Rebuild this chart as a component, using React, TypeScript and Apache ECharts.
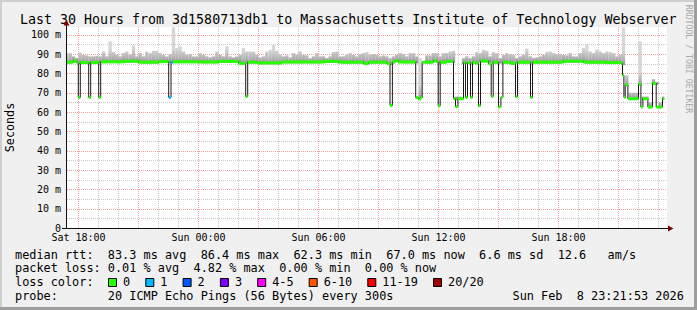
import React, { useEffect, useRef } from 'react';
import * as echarts from 'echarts';

const FONT = '"DejaVu Sans Mono", "Liberation Mono", monospace';

// ---- axes ----
const xMinHour = 17.425; // hours since Sat 00:00
const xMaxHour = 47.425;
const yMaxMs = 104;

const xTickHours = [18, 24, 30, 36, 42];
const xTickLabels = ['Sat 18:00', 'Sun 00:00', 'Sun 06:00', 'Sun 12:00', 'Sun 18:00'];
const yTickValues = [0, 10, 20, 30, 40, 50, 60, 70, 80, 90, 100];
const yTickLabels = ['0', '10 m', '20 m', '30 m', '40 m', '50 m', '60 m', '70 m', '80 m', '90 m', '100 m'];
const majorGridHours = [18, 21, 24, 27, 30, 33, 36, 39, 42, 45];
const minorGridHours = [18, 19, 20, 21, 22, 23, 24, 25, 26, 27, 28, 29, 30, 31, 32, 33, 34, 35, 36, 37, 38, 39, 40, 41, 42, 43, 44, 45, 46, 47];
const majorGridMs = [10, 20, 30, 40, 50, 60, 70, 80, 90, 100];
const minorGridMs = [5, 15, 25, 35, 45, 55, 65, 75, 85, 95];

// ---- median rtt (step breakpoints) ----
const medianHours = [
  17.3, 17.75, 17.92, 17.99, 18.09, 18.51, 18.61, 19.01, 19.11, 20.33, 21.0, 22.0,
  22.51, 22.625, 22.71, 24.0, 25.0, 26.0, 26.36, 26.46, 26.92, 28.17, 30.33, 31.0,
  32.25, 32.5, 33.42, 33.575, 33.695, 33.835, 34.0, 34.86, 34.99, 35.12, 35.185,
  35.75, 35.92, 35.985, 36.085, 36.42, 36.75, 36.85, 36.97, 37.25, 37.35, 37.45,
  37.6, 37.7, 37.835, 38.0, 38.1, 38.5, 38.635, 38.735, 39.0, 39.12, 39.22, 39.585,
  39.85, 39.95, 40.6, 40.7, 42.25, 43.25, 44.335, 45.135, 45.2, 45.27, 45.335, 45.47,
  46.0, 46.12, 46.22, 46.47, 46.7, 46.885, 47.2, 47.285,
];
const medianMs = [
  85.8, 86.4, 85.3, 67.6, 85.6, 67.6, 85.6, 67.6, 86.0, 86.3, 85.8, 86.1,
  67.6, 85.8, 86.0, 85.9, 86.2, 85.2, 68.1, 85.8, 85.4, 85.9, 86.2, 85.8,
  85.1, 85.8, 85.0, 63.4, 85.9, 86.5, 85.9, 67.5, 66.8, 67.5, 85.8,
  86.5, 85.8, 63.2, 85.8, 86.2, 66.9, 62.8, 66.9, 85.5, 67.6, 85.5,
  67.6, 85.8, 85.3, 63.3, 86.4, 85.0, 68.1, 85.8, 62.7, 67.6, 85.8, 85.2,
  67.9, 85.8, 67.6, 85.8, 86.3, 85.8, 85.6, 85.0, 79.0, 67.6, 74.1, 66.9,
  74.4, 62.6, 66.9, 62.6, 74.8, 62.6, 66.9, 66.9,
];
const medianLoss = [
  0, 0, 0, 0, 0, 0, 0, 0, 0, 0, 0, 0,
  1, 1, 0, 0, 0, 0, 0, 0, 0, 0, 0, 0,
  0, 0, 0, 0, 0, 0, 0, 0, 0, 0, 0,
  0, 0, 0, 0, 0, 0, 0, 0, 0, 0, 0,
  0, 0, 0, 0, 0, 0, 0, 0, 0, 0, 0, 0,
  0, 0, 0, 0, 0, 0, 0, 0, 0, 0, 0, 0,
  0, 0, 0, 0, 0, 0, 0, 0,
];
const dataEndHour = 47.285;

// ---- smoke (top of ping spread per 10-minute bin) ----
const smokeStartHour = 17.333;
const smokeStepHour = 1 / 6;
const smokeTopMs = [
  90.5, 90.5, 88.8, 87.9, 90.8, 89.6, 89.3, 88.8, 88.8, 89.1, 88.8, 91.3, 88.8, 96.6, 91.0, 89.6, 88.8, 90.5, 91.3, 89.6,
  94.5, 88.8, 90.5, 88.8, 91.3, 90.5, 91.7, 91.7, 90.5, 89.6, 88.8, 90.0, 103.8, 93.1, 94.0, 91.3, 89.6,
  90.0, 88.8, 88.8, 90.5, 89.6, 88.8, 88.3, 88.8, 91.3, 89.6, 88.8, 94.0, 88.8, 88.3, 88.8, 89.6, 93.1, 91.3, 91.3,
  91.3, 89.6, 88.3, 88.8, 91.3, 92.2, 94.8, 91.7, 89.6, 88.8, 89.3, 88.3, 90.5, 89.6, 91.3, 89.6, 89.3,
  87.9, 88.8, 90.5, 88.8, 88.8, 87.9, 88.8, 91.0, 91.3, 88.8, 88.8, 89.6, 90.5, 89.6, 88.8, 90.0, 90.5, 91.0,
  89.6, 90.0, 89.6, 88.8, 89.3, 88.8, 87.9, 88.8, 89.6, 90.5, 90.0, 88.8, 90.5, 90.5, 88.8, 87.9, 68.5, 89.3,
  89.3, 90.5, 90.5, 88.8, 90.5, 90.5, 91.3, 91.7, 68.0, 68.0, 87.9, 88.8, 87.9, 88.8, 91.0, 90.5, 92.2, 91.7,
  88.8, 91.0, 90.5, 87.9, 89.6, 90.5, 90.0, 89.6, 87.9, 88.8, 89.6, 92.9, 88.8, 87.9, 88.3, 88.8, 89.6, 91.0,
  91.3, 90.5, 90.0, 90.0, 89.6, 89.3, 90.5, 88.8, 88.8, 90.5, 93.1, 94.8, 91.3, 90.5, 92.2, 91.3, 90.5, 91.3,
  91.0, 90.5, 88.8, 89.6, 103.8, 79.0, 70.0, 70.0, 70.0, 96.6, 68.0, 68.0, 65.0, 77.0, 75.5, 65.0, 68.0,
];

// ---- loss legend ----
const lossLabels = ['0', '1', '2', '3', '4-5', '6-10', '11-19', '20/20'];
const lossUpper = [0, 1, 2, 3, 5, 10, 19, 20];
const lossColors = ['#26ff00', '#00b8ff', '#0059ff', '#7e00ff', '#ff00ff', '#ff5500', '#ff0000', '#a10000'];

// ---- legend texts ----
const titleText = 'Last 30 Hours from 3d1580713db1 to Massachusetts Institute of Technology Webserver';
const legendLines = [
  'median rtt:  83.3 ms avg  86.4 ms max  62.3 ms min  67.0 ms now  6.6 ms sd  12.6   am/s',
  'packet loss: 0.01 % avg  4.82 % max  0.00 % min  0.00 % now',
  'loss color:',
  'probe:       20 ICMP Echo Pings (56 Bytes) every 300s',
];
const dateText = 'Sun Feb  8 23:21:53 2026';

function lossColor(loss: number): string {
  for (let i = 0; i < lossUpper.length; i++) if (loss <= lossUpper[i]) return lossColors[i];
  return lossColors[lossColors.length - 1];
}

function medianMaxIn(t0: number, t1: number): number | null {
  let m: number | null = null;
  for (let i = 0; i < medianHours.length - 1; i++) {
    const a = medianHours[i];
    const b = medianHours[i + 1];
    if (b > t0 && a < t1) m = m === null ? medianMs[i] : Math.max(m, medianMs[i]);
  }
  return m;
}

function txt(text: string, x: number, y: number, size: number, extra: any = {}) {
  return {
    type: 'text',
    x,
    y,
    z: 100,
    silent: true,
    rotation: extra.rotation || 0,
    style: {
      text: text.replace(/ /g, '\u00a0'),
      font: `${size}px ${FONT}`,
      fill: extra.fill || '#000',
      align: extra.align || 'left',
      textAlign: extra.align || 'left',
      verticalAlign: 'middle',
      textVerticalAlign: 'middle',
    },
  };
}

function buildOption(): any {
  const vLines = (values: number[], color: string, z: number) => ({
    type: 'custom',
    z,
    silent: true,
    data: values.map((h) => [h, 0]),
    renderItem: (params: any, api: any) => {
      const cs = params.coordSys;
      const p = api.coord([api.value(0), 0]);
      const x = Math.floor(p[0]) + 0.5;
      return {
        type: 'line',
        shape: { x1: x, y1: cs.y, x2: x, y2: cs.y + cs.height },
        style: { stroke: color, lineWidth: 1, lineDash: [1, 1] },
      };
    },
  });
  const hLines = (values: number[], color: string, z: number) => ({
    type: 'custom',
    z,
    silent: true,
    data: values.map((v) => [xMinHour, v]),
    renderItem: (params: any, api: any) => {
      const cs = params.coordSys;
      const p = api.coord([xMinHour, api.value(1)]);
      const y = Math.round(p[1]) + 0.5;
      return {
        type: 'line',
        shape: { x1: cs.x, y1: y, x2: cs.x + cs.width, y2: y },
        style: { stroke: color, lineWidth: 1, lineDash: [1, 1] },
      };
    },
  });

  const smokeSeries = {
    type: 'custom',
    z: 5,
    silent: true,
    clip: true,
    data: smokeTopMs.map((v, k) => [smokeStartHour + k * smokeStepHour, v]),
    renderItem: (params: any, api: any) => {
      const cs = params.coordSys;
      const t0 = api.value(0);
      const top = api.value(1);
      const t1 = Math.min(t0 + smokeStepHour, dataEndHour);
      if (t1 <= t0) return null;
      const base = medianMaxIn(t0, t1);
      if (base === null || top <= base) return null;
      const pTop = api.coord([t0, top]);
      const pBot = api.coord([t1, base - 0.7]);
      const x0 = Math.max(pTop[0], cs.x);
      const x1 = Math.min(pBot[0], cs.x + cs.width);
      if (x1 <= x0) return null;
      const yTop = Math.max(pTop[1], cs.y);
      return {
        type: 'rect',
        shape: { x: x0, y: yTop, width: x1 - x0, height: pBot[1] - yTop },
        style: {
          fill: new echarts.graphic.LinearGradient(
            0, pBot[1], 0, pBot[1] - 14,
            [
              { offset: 0, color: '#8a8a8a' },
              { offset: 0.35, color: '#b0b0b0' },
              { offset: 1, color: '#d6d6d6' },
            ],
            true,
          ),
        },
      };
    },
  };

  const medianLine = {
    type: 'line',
    z: 10,
    silent: true,
    step: 'end',
    showSymbol: false,
    symbol: 'none',
    clip: true,
    data: medianHours.map((h, i) => [h, medianMs[i]]),
    lineStyle: { color: '#1a1a1a', width: 1 },
  };

  const segs: number[][] = [];
  for (let i = 0; i < medianHours.length - 1; i++) {
    segs.push([medianHours[i], medianMs[i], medianHours[i + 1], medianLoss[i]]);
  }
  const lossBand = {
    type: 'custom',
    z: 12,
    silent: true,
    clip: true,
    encode: { x: [0, 2], y: 1 },
    data: segs,
    renderItem: (params: any, api: any) => {
      const cs = params.coordSys;
      const a = api.coord([api.value(0), api.value(1)]);
      const b = api.coord([api.value(2), api.value(1)]);
      const x0 = Math.max(a[0], cs.x);
      const x1 = Math.min(b[0], cs.x + cs.width);
      if (x1 <= x0) return null;
      return {
        type: 'rect',
        shape: { x: x0, y: a[1] - 1.5, width: x1 - x0, height: 3 },
        style: { fill: lossColor(api.value(3)) },
      };
    },
  };

  const LF = 11.86;
  const lineY = [254.5, 268.4, 282.3, 296.2];

  // legend row of loss colours
  const lossGraphics: any[] = [];
  let bx = 108.5;
  lossLabels.forEach((lab, i) => {
    lossGraphics.push({
      type: 'rect',
      z: 100,
      silent: true,
      shape: { x: bx, y: 278.5, width: 8, height: 8 },
      style: { fill: lossColors[i], stroke: '#000', lineWidth: 1 },
    });
    lossGraphics.push(txt(lab, bx + 14.5, lineY[2], LF));
    bx += 30.2 + lab.length * 7.1;
  });

  return {
    animation: false,
    backgroundColor: '#f0f0f0',
    grid: {
      left: 67,
      top: 27,
      width: 600,
      height: 201,
      show: true,
      backgroundColor: '#ffffff',
      borderWidth: 0,
      containLabel: false,
      outerBoundsMode: 'none',
    },
    xAxis: {
      type: 'value',
      min: xMinHour,
      max: xMaxHour,
      axisLine: { show: false },
      axisTick: { show: false },
      splitLine: { show: false },
      axisLabel: {
        customValues: xTickHours,
        formatter: (v: number) => {
          const i = xTickHours.findIndex((h) => Math.abs(h - v) < 1e-6);
          return i >= 0 ? xTickLabels[i] : '';
        },
        fontFamily: FONT,
        fontSize: 10,
        lineHeight: 10,
        color: '#000',
        margin: 4.5,
      },
    },
    yAxis: {
      type: 'value',
      min: 0,
      max: yMaxMs,
      axisLine: { show: false },
      axisTick: { show: false },
      splitLine: { show: false },
      axisLabel: {
        customValues: yTickValues,
        formatter: (v: number) => {
          const i = yTickValues.findIndex((t) => Math.abs(t - v) < 1e-6);
          return i >= 0 ? yTickLabels[i] : '';
        },
        fontFamily: FONT,
        fontSize: 10,
        lineHeight: 8,
        color: '#000',
        margin: 6,
      },
    },
    series: [
      vLines(minorGridHours, '#c8c8c8', 1),
      hLines(minorGridMs, '#c8c8c8', 1),
      vLines(majorGridHours, '#f4a0a0', 2),
      hLines(majorGridMs, '#f4a0a0', 2),
      smokeSeries,
      medianLine,
      lossBand,
    ],
    graphic: [
      { type: 'rect', z: 100, silent: true, shape: { x: 0, y: 0, width: 697, height: 2 }, style: { fill: '#cfcfcf' } },
      { type: 'rect', z: 100, silent: true, shape: { x: 0, y: 0, width: 2, height: 310 }, style: { fill: '#cfcfcf' } },
      { type: 'rect', z: 101, silent: true, shape: { x: 694, y: 0, width: 3, height: 310 }, style: { fill: '#9e9e9e' } },
      { type: 'rect', z: 101, silent: true, shape: { x: 0, y: 307, width: 697, height: 3 }, style: { fill: '#9e9e9e' } },
      // axes
      { type: 'line', z: 100, silent: true, shape: { x1: 66.5, y1: 229, x2: 66.5, y2: 25 }, style: { stroke: '#101010', lineWidth: 1 } },
      { type: 'line', z: 100, silent: true, shape: { x1: 62, y1: 228.5, x2: 669, y2: 228.5 }, style: { stroke: '#101010', lineWidth: 1 } },
      { type: 'polygon', z: 101, silent: true, shape: { points: [[63.5, 25.5], [69.5, 25.5], [66.5, 20]] }, style: { fill: '#7f0000' } },
      { type: 'polygon', z: 101, silent: true, shape: { points: [[668, 225.5], [668, 231.5], [673.5, 228.5]] }, style: { fill: '#7f0000' } },
      // texts
      txt(titleText, 20, 19.5, 13.3),
      txt('Seconds', 10, 127.5, 11.75, { rotation: Math.PI / 2, align: 'center' }),
      txt('RRDTOOL / TOBI OETIKER', 688.5, 59, 8.2, { rotation: -Math.PI / 2, align: 'center', fill: '#a8a8a8' }),
      ...legendLines.map((l, i) => txt(l, 15, lineY[i], LF)),
      ...lossGraphics,
      txt(dateText, 512.5, lineY[3], LF),
    ],
  };
}

export default function App() {
  const ref = useRef<HTMLDivElement>(null);
  useEffect(() => {
    if (!ref.current) return;
    const chart = echarts.init(ref.current, null, { renderer: 'svg' });
    chart.setOption(buildOption());
    return () => {
      chart.dispose();
    };
  }, []);
  return <div ref={ref} style={{ position: 'absolute', left: 0, top: 0, width: 697, height: 310 }} />;
}
